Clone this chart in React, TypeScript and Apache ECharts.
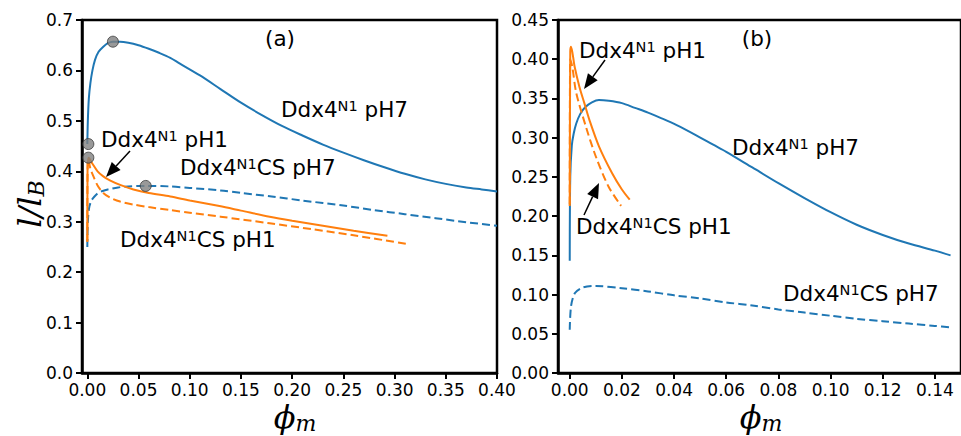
import { useEffect, useRef } from "react";
import * as echarts from "echarts";

// ---- tick values -------------------------------------------------------
const leftXTicks = [0, 0.05, 0.1, 0.15, 0.2, 0.25, 0.3, 0.35, 0.4];
const rightXTicks = [0, 0.02, 0.04, 0.06, 0.08, 0.1, 0.12, 0.14];

// ---- panel (a) ---------------------------------------------------------
const aPh7X = [0, 0.0005, 0.0015, 0.003, 0.005, 0.0075, 0.011, 0.0156, 0.02, 0.025, 0.032, 0.04, 0.05, 0.06, 0.07, 0.081, 0.09, 0.11, 0.13, 0.15, 0.17, 0.19, 0.21, 0.23, 0.25, 0.27, 0.29, 0.31, 0.33, 0.35, 0.37, 0.385, 0.4];
const aPh7Y = [0.454, 0.5, 0.545, 0.575, 0.6, 0.621, 0.637, 0.647, 0.654, 0.657, 0.657, 0.655, 0.65, 0.643, 0.635, 0.625, 0.614, 0.59, 0.563, 0.536, 0.512, 0.49, 0.471, 0.453, 0.437, 0.422, 0.408, 0.395, 0.384, 0.375, 0.368, 0.364, 0.36];

const aCsPh7X = [0, 0.0003, 0.001, 0.002, 0.004, 0.007, 0.01, 0.015, 0.02, 0.03, 0.04, 0.057, 0.08, 0.1, 0.13, 0.15, 0.18, 0.21, 0.25, 0.28, 0.31, 0.34, 0.37, 0.4];
const aCsPh7Y = [0.25, 0.29, 0.315, 0.33, 0.342, 0.35, 0.356, 0.361, 0.364, 0.368, 0.37, 0.371, 0.37, 0.367, 0.362, 0.357, 0.35, 0.342, 0.332, 0.323, 0.315, 0.307, 0.299, 0.292];

const aPh1X = [0, 0.0002, 0.001, 0.002, 0.005, 0.01, 0.0156, 0.022, 0.032, 0.045, 0.06, 0.081, 0.1, 0.129, 0.15, 0.178, 0.2, 0.23, 0.26, 0.293];
const aPh1Y = [0.262, 0.4, 0.427, 0.425, 0.415, 0.4, 0.39, 0.382, 0.373, 0.364, 0.357, 0.35, 0.342, 0.331, 0.322, 0.31, 0.302, 0.292, 0.282, 0.272];

const aCsPh1X = [0, 0.0003, 0.001, 0.003, 0.006, 0.01, 0.0156, 0.022, 0.032, 0.045, 0.06, 0.081, 0.1, 0.13, 0.178, 0.22, 0.26, 0.312];
const aCsPh1Y = [0.26, 0.415, 0.424, 0.405, 0.39, 0.372, 0.357, 0.348, 0.34, 0.334, 0.329, 0.323, 0.318, 0.31, 0.297, 0.285, 0.273, 0.256];

const aPointsX = [0.025, 0.001, 0.001, 0.057];
const aPointsY = [0.657, 0.454, 0.427, 0.371];

// ---- panel (b) ---------------------------------------------------------
const bPh7X = [0, 0.0002, 0.0008, 0.0015, 0.0025, 0.004, 0.006, 0.0085, 0.0112, 0.015, 0.02, 0.025, 0.03, 0.035, 0.041, 0.0485, 0.055, 0.06, 0.07, 0.08, 0.09, 0.1, 0.11, 0.12, 0.13, 0.14, 0.146];
const bPh7Y = [0.143, 0.25, 0.29, 0.305, 0.318, 0.33, 0.339, 0.345, 0.348, 0.347, 0.344, 0.338, 0.332, 0.325, 0.316, 0.303, 0.291, 0.282, 0.262, 0.242, 0.223, 0.205, 0.189, 0.176, 0.165, 0.156, 0.15];

const bCsPh7X = [0, 0.0005, 0.002, 0.005, 0.01, 0.02, 0.03, 0.04, 0.05, 0.06, 0.07, 0.08, 0.09, 0.1, 0.11, 0.12, 0.13, 0.14, 0.146];
const bCsPh7Y = [0.055, 0.085, 0.102, 0.109, 0.111, 0.108, 0.104, 0.099, 0.095, 0.09, 0.086, 0.081, 0.077, 0.073, 0.069, 0.066, 0.063, 0.06, 0.058];

const bPh1X = [0, 0.0002, 0.0005, 0.0019, 0.0037, 0.0056, 0.0075, 0.0112, 0.0162, 0.02, 0.023];
const bPh1Y = [0.213, 0.41, 0.416, 0.39, 0.365, 0.344, 0.323, 0.289, 0.255, 0.234, 0.221];

const bCsPh1X = [0, 0.0002, 0.001, 0.0025, 0.0062, 0.01, 0.0149, 0.0197];
const bCsPh1Y = [0.215, 0.4, 0.39, 0.357, 0.314, 0.276, 0.2375, 0.213];

// ---- styling -------------------------------------------------------------
const BLUE = "#1f77b4";
const ORANGE = "#ff7f0e";
const SANS = "DejaVu Sans";
const SERIF = "DejaVu Serif";
const DASH = [8, 4];
const TICK_FONT = 17;

const zip = (xs: number[], ys: number[]) => xs.map((x, i) => [x, ys[i]]);

function line(name: string, xs: number[], ys: number[], color: string, dashed: boolean, panel: number) {
  return {
    name,
    type: "line",
    xAxisIndex: panel,
    yAxisIndex: panel,
    data: zip(xs, ys),
    showSymbol: false,
    symbol: "none",
    smooth: 0.3,
    lineStyle: { color, width: 2, type: dashed ? DASH : "solid" },
    z: 2,
  };
}

function arrow(x1: number, y1: number, x2: number, y2: number) {
  const dx = x2 - x1;
  const dy = y2 - y1;
  const len = Math.hypot(dx, dy);
  const ux = dx / len;
  const uy = dy / len;
  const hl = 15;
  const hw = 6;
  const bx = x2 - ux * hl;
  const by = y2 - uy * hl;
  const px = -uy;
  const py = ux;
  return [
    { type: "line", shape: { x1, y1, x2: bx, y2: by }, style: { stroke: "#000", lineWidth: 1.5 }, z: 10 },
    {
      type: "polygon",
      shape: { points: [[x2, y2], [bx + px * hw, by + py * hw], [bx - px * hw, by - py * hw]] },
      style: { fill: "#000" },
      z: 10,
    },
  ];
}

function label(x: number, y: number, pre: string, sup: string, post: string) {
  return {
    type: "text",
    x,
    y,
    z: 10,
    style: {
      text: `{m|${pre}}{s|${sup}}{m|${post}}`,
      fill: "#000",
      align: "left",
      verticalAlign: "middle",
      rich: {
        m: { fontSize: 21.5, fontFamily: SANS, fill: "#000", lineHeight: 21 },
        s: { fontSize: 14.5, fontFamily: SANS, fill: "#000", lineHeight: 14, verticalAlign: "top" },
      },
    },
  };
}

function plain(x: number, y: number, text: string) {
  return {
    type: "text",
    x,
    y,
    z: 10,
    style: { text, fontSize: 21.5, fontFamily: SANS, fill: "#000", align: "center", verticalAlign: "middle" },
  };
}

function mathLabel(x: number, y: number, base: string, sub: string, rotation = 0) {
  return {
    type: "text",
    x,
    y,
    rotation,
    z: 10,
    style: {
      text: `{b|${base}}{s|${sub}}`,
      align: "center",
      verticalAlign: "middle",
      fill: "#000",
      rich: {
        b: { fontSize: 32, fontFamily: SERIF, fontStyle: "italic", fill: "#000", lineHeight: 34 },
        s: { fontSize: 22, fontFamily: SERIF, fontStyle: "italic", fill: "#000", lineHeight: 14, verticalAlign: "bottom" },
      },
    },
  };
}

function xAxis(panel: number, min: number, max: number, ticks: number[]) {
  return {
    gridIndex: panel,
    type: "value",
    min,
    max,
    axisLine: { show: true, onZero: false, lineStyle: { color: "#000", width: 2.5 } },
    axisTick: { show: true, length: 6, customValues: ticks, lineStyle: { color: "#000", width: 2 } },
    axisLabel: {
      customValues: ticks,
      formatter: (v: number) => v.toFixed(2),
      fontSize: TICK_FONT,
      fontFamily: SANS,
      color: "#000",
      margin: 8,
    },
    splitLine: { show: false },
  };
}

function yAxis(panel: number, max: number, interval: number, digits: number) {
  return {
    gridIndex: panel,
    type: "value",
    min: 0,
    max,
    interval,
    axisLine: { show: true, onZero: false, lineStyle: { color: "#000", width: 2.5 } },
    axisTick: { show: true, length: 6, lineStyle: { color: "#000", width: 2 } },
    axisLabel: {
      formatter: (v: number) => v.toFixed(digits),
      fontSize: TICK_FONT,
      fontFamily: SANS,
      color: "#000",
      margin: 9,
    },
    splitLine: { show: false },
  };
}

export default function App() {
  const ref = useRef<HTMLDivElement>(null);

  useEffect(() => {
    if (!ref.current) return;
    const chart = echarts.init(ref.current, undefined, { renderer: "svg" });
    const gridStyle = { show: true, borderColor: "#000", borderWidth: 2.5, backgroundColor: "transparent" };

    chart.setOption({
      animation: false,
      backgroundColor: "#fff",
      grid: [
        { left: 82, top: 20, width: 415, height: 353, ...gridStyle },
        { left: 558, top: 20, width: 414, height: 353, ...gridStyle },
      ],
      xAxis: [xAxis(0, -0.0052, 0.4, leftXTicks), xAxis(1, -0.0045, 0.15, rightXTicks)],
      yAxis: [yAxis(0, 0.7, 0.1, 1), yAxis(1, 0.45, 0.05, 2)],
      series: [
        line("Ddx4N1 pH7", aPh7X, aPh7Y, BLUE, false, 0),
        line("Ddx4N1CS pH7", aCsPh7X, aCsPh7Y, BLUE, true, 0),
        line("Ddx4N1 pH1", aPh1X, aPh1Y, ORANGE, false, 0),
        line("Ddx4N1CS pH1", aCsPh1X, aCsPh1Y, ORANGE, true, 0),
        {
          name: "points",
          type: "scatter",
          xAxisIndex: 0,
          yAxisIndex: 0,
          data: zip(aPointsX, aPointsY),
          symbol: "circle",
          symbolSize: 11,
          itemStyle: { color: "#808080", borderColor: "#3a3a3a", borderWidth: 1 },
          z: 5,
        },
        line("Ddx4N1 pH7 (b)", bPh7X, bPh7Y, BLUE, false, 1),
        line("Ddx4N1CS pH7 (b)", bCsPh7X, bCsPh7Y, BLUE, true, 1),
        line("Ddx4N1 pH1 (b)", bPh1X, bPh1Y, ORANGE, false, 1),
        line("Ddx4N1CS pH1 (b)", bCsPh1X, bCsPh1Y, ORANGE, true, 1),
      ],
      graphic: [
        plain(280, 38, "(a)"),
        plain(757, 38, "(b)"),
        label(281, 109, "Ddx4", "N1", " pH7"),
        label(101, 139, "Ddx4", "N1", " pH1"),
        label(180, 167, "Ddx4", "N1", "CS pH7"),
        label(120, 239, "Ddx4", "N1", "CS pH1"),
        ...arrow(130, 151, 106, 177),
        label(579, 50, "Ddx4", "N1", " pH1"),
        label(576, 226, "Ddx4", "N1", "CS pH1"),
        label(732, 147, "Ddx4", "N1", " pH7"),
        label(783, 293, "Ddx4", "N1", "CS pH7"),
        ...arrow(605, 60, 584, 89),
        ...arrow(584, 215, 599, 183),
        mathLabel(30, 204, "l/l", "B", Math.PI / 2),
        mathLabel(295, 417, "ϕ", "m"),
        mathLabel(761, 417, "ϕ", "m"),
      ],
    });

    return () => chart.dispose();
  }, []);

  return (
    <div
      ref={ref}
      style={{ position: "fixed", left: 0, top: 0, width: 961, height: 436, background: "#fff" }}
    />
  );
}
